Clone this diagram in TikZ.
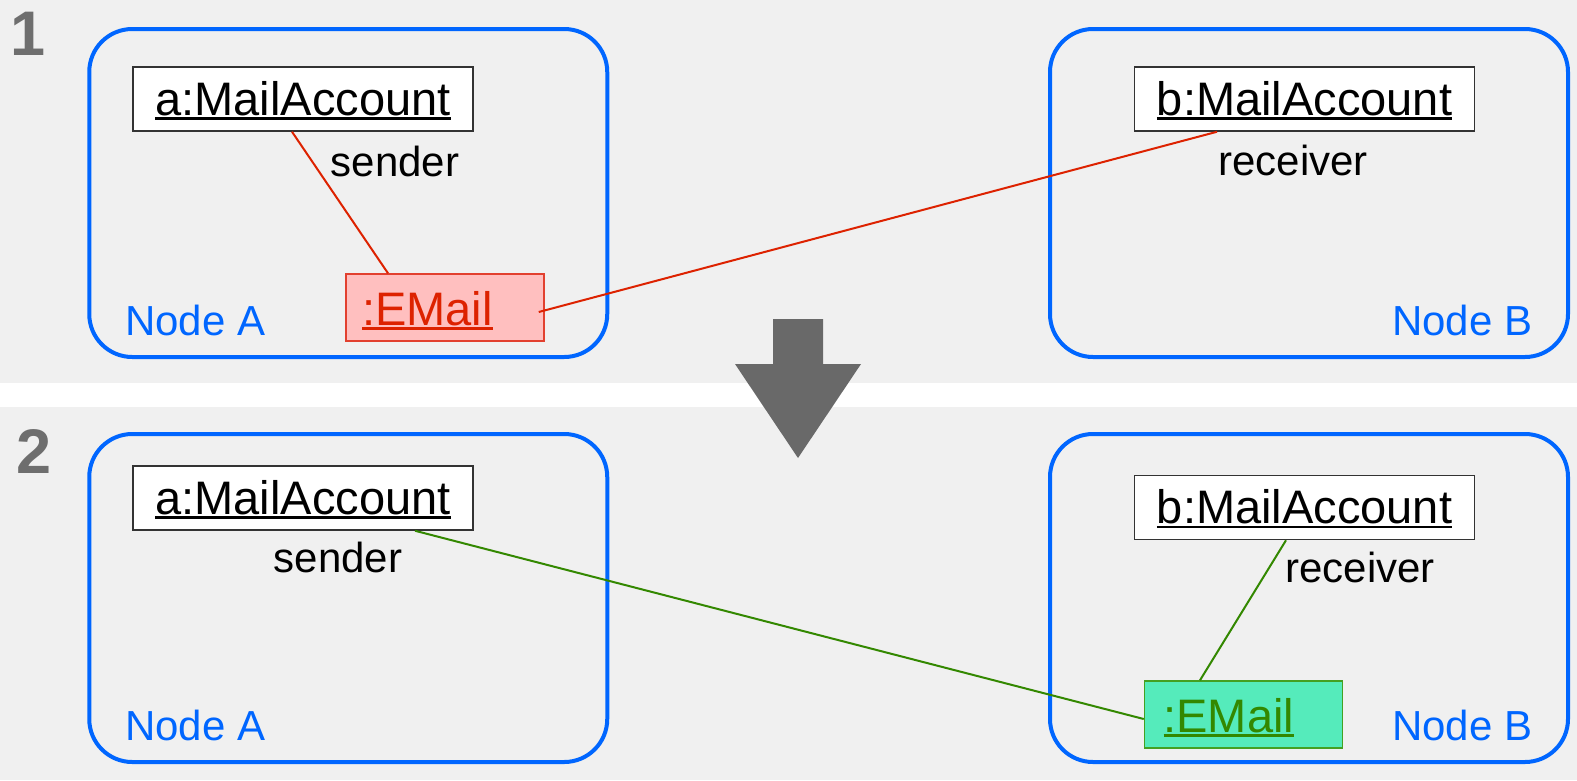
\documentclass[tikz,border=0pt]{standalone}
\usepackage{fontspec}
\setmainfont{Liberation Sans}
\usetikzlibrary{calc}

\definecolor{panelbg}{HTML}{F0F0F0}
\definecolor{nodeblue}{HTML}{0066FF}
\definecolor{arrowgray}{HTML}{696969}
\definecolor{numgray}{HTML}{6E6E6E}
\definecolor{boxline}{HTML}{333333}
\definecolor{movered}{HTML}{DD2200}
\definecolor{redfill}{HTML}{FFBFBF}
\definecolor{redline}{HTML}{E2402F}
\definecolor{movegreen}{HTML}{338800}
\definecolor{greenfill}{HTML}{55EBBB}
\definecolor{greenline}{HTML}{44A022}

% object names are underlined with a rule in the text colour
\newcommand\uln[1]{\setbox0\hbox{#1}\rlap{\rule[-4.5pt]{\wd0}{2.4pt}}\box0}
\newcommand\objfont{\fontsize{47pt}{50pt}\selectfont}
\newcommand\lblfont{\fontsize{42pt}{45pt}\selectfont}
\newcommand\numfont{\fontsize{63pt}{66pt}\selectfont\bfseries}

\begin{document}
\begin{tikzpicture}[x=1pt,y=-1pt,
  region/.style={draw=nodeblue, line width=4pt, rounded corners=43pt,
    minimum width=518pt, minimum height=328pt, inner sep=0pt},
  account/.style={draw=boxline, line width=1.5pt, fill=white,
    minimum width=340pt, minimum height=64pt, inner sep=0pt,
    text height=32pt, text depth=0pt, font=\objfont},
  email/.style={line width=1.5pt, minimum width=198pt, minimum height=67pt,
    inner sep=0pt, text height=35pt, text depth=0pt, font=\objfont},
  redmail/.style={email, draw=redline, fill=redfill, text=movered},
  greenmail/.style={email, draw=greenline, fill=greenfill, text=movegreen},
  role/.style={font=\lblfont, inner sep=0pt, anchor=base},
  place/.style={font=\lblfont, text=nodeblue, inner sep=0pt, anchor=base west},
  stage/.style={font=\numfont, text=numgray, inner sep=0pt, anchor=base},
  redlink/.style={draw=movered, line width=2pt},
  greenlink/.style={draw=movegreen, line width=2pt}]

% canvas: two grey panels split by a white strip
\useasboundingbox (0,0) rectangle (1577,780);
\fill[white] (0,0) rectangle (1577,780);
\fill[panelbg] (0,0) rectangle (1577,383);
\fill[panelbg] (0,407) rectangle (1577,780);

% ---------- step 1 ----------
\node[stage] (n1) at (28,55) {1};
\node[region] (A1) at (348.25,193) {};
\node[region] (B1) at (1309,193) {};
\node[place] (A1l) at (125,335) {Node A};
\node[place] (B1l) at (1392,335) {Node B};

\node[account] (a1) at (303,99) {\uln{a:MailAccount}};
\node[account] (b1) at (1304.5,99) {\uln{b:MailAccount}};
\node[redmail] (em1) at (445,307.5) {\makebox[198pt][l]{\hspace{16pt}\uln{:EMail}}};

\node[role] (s1) at (395,176) {sender};
\node[role] (r1) at (1293,175) {receiver};

\draw[redlink] ([xshift=-11pt]a1.south) -- ([xshift=-57pt]em1.north);
\draw[redlink] ([shift={(-6,4.5)}]em1.east) -- ([xshift=-87.5pt]b1.south);

% transition arrow
\fill[arrowgray] (773,319) -- (823,319) -- (823,364) -- (861,364)
  -- (798,458) -- (735,364) -- (773,364) -- cycle;

% ---------- step 2 ----------
\node[stage] (n2) at (34,473) {2};
\node[region] (A2) at (348.25,598) {};
\node[region] (B2) at (1309,598) {};
\node[place] (A2l) at (125,740) {Node A};
\node[place] (B2l) at (1392,740) {Node B};

\node[account] (a2) at (303,498) {\uln{a:MailAccount}};
\node[account] (b2) at (1304.5,507.5) {\uln{b:MailAccount}};
\node[greenmail] (em2) at (1243.5,714.5) {\makebox[198pt][l]{\hspace{19pt}\uln{:EMail}}};

\node[role] (s2) at (338,572) {sender};
\node[role] (r2) at (1360,582) {receiver};

\draw[greenlink] ([xshift=112pt]a2.south) -- ([shift={(0,4.5)}]em2.west);
\draw[greenlink] ([xshift=-18.5pt]b2.south) -- ([xshift=-43.5pt]em2.north);
\end{tikzpicture}
\end{document}
